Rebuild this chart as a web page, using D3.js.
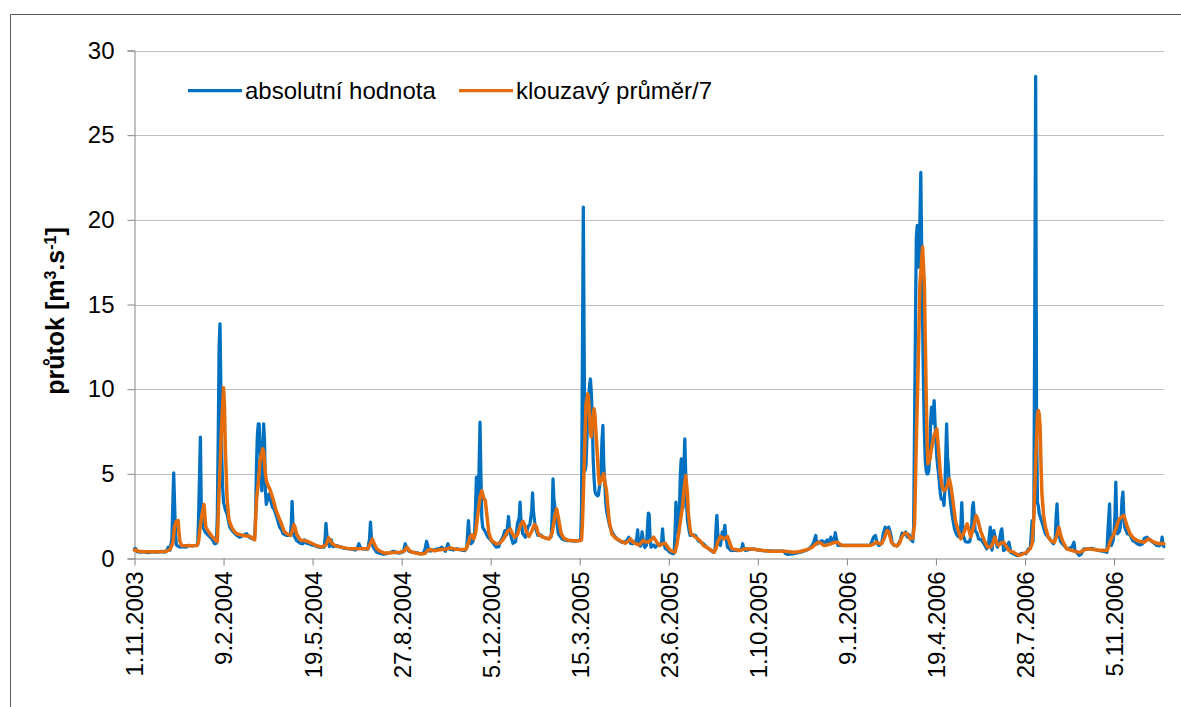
<!DOCTYPE html>
<html lang="cs">
<head>
<meta charset="utf-8">
<title>průtok</title>
<script src="https://cdn.jsdelivr.net/npm/d3@7/dist/d3.min.js"></script>
<style>
  html, body { margin: 0; padding: 0; background: #fff; }
  svg { display: block; font-family: "Liberation Sans", Arial, sans-serif; }
</style>
</head>
<body>
<svg id="chart" width="1181" height="707"></svg>
<script>
// Series start date; data points are given as [day offset from start, m3/s]
const startDate = "1.11.2003";
const dayCount = 1156;

// Daily discharge (absolutní hodnota)
const absolutni = [
 [0,0.57],[1,0.6],[3,0.4],[6,0.37],[10,0.4],[15,0.35],[20,0.4],[25,0.37],[30,0.42],[34,0.38],[36,0.45],[38,0.67],[40,0.5],
 [42,1.2],[44,5.06],[46,1.5],[47,0.8],[49,0.72],[51,0.67],[55,0.7],[58,0.67],[61,0.77],[65,0.75],[69,0.78],[71,0.8],
 [72,2.5],[74,7.17],[75,3.0],[76,2.6],[77,1.85],[79,1.6],[81,1.47],[84,1.3],[87,1.16],[90,0.87],[92,0.9],
 [93,2.5],[94,7],[95,12.5],[96,13.86],[97,10],[98,6],[99,4.2],[100,3.3],[102,2.9],[104,2.6],[107,1.85],[109,1.7],[111,1.56],
 [115,1.36],[118,1.26],[122,1.36],[126,1.46],[128,1.3],[130,1.22],[133,1.16],[135,1.3],[136,2.5],[137,5.5],[138,7.3],
 [139,7.95],[140,7.95],[141,6.5],[142,4.5],[143,4.0],[144,6.0],[145,7.95],[146,7.0],[147,4.0],[148,3.2],[149,3.4],[151,3.8],
 [153,3.4],[155,3.03],[157,2.9],[160,2.4],[163,1.85],[165,1.7],[167,1.46],[171,1.36],[175,1.36],[176,2.0],[177,3.37],
 [178,2.0],[179,1.36],[182,1.06],[186,0.9],[189,0.87],[191,1.1],[193,0.9],[196,0.87],[199,0.8],[202,0.77],[207,0.67],
 [210,0.65],[213,0.67],[214,1.2],[215,2.07],[216,1.4],[218,0.96],[219,0.7],[221,1.1],[223,0.7],[227,0.77],[232,0.67],
 [236,0.6],[242,0.57],[248,0.5],[250,0.6],[252,0.87],[254,0.6],[257,0.57],[262,0.55],[264,1.2],[265,2.15],[266,1.2],
 [268,0.67],[272,0.37],[276,0.3],[280,0.25],[283,0.28],[287,0.35],[291,0.43],[294,0.35],[298,0.32],[302,0.4],[304,0.87],
 [306,0.6],[308,0.43],[312,0.37],[316,0.35],[321,0.28],[324,0.3],[326,0.5],[328,1.02],[330,0.6],[332,0.43],[336,0.5],
 [338,0.53],[343,0.6],[345,0.67],[347,0.55],[349,0.43],[352,0.87],[354,0.55],[358,0.5],[362,0.57],[367,0.5],[371,0.47],
 [373,0.6],[374,1.4],[375,2.24],[376,1.4],[378,0.87],[380,1.0],[382,1.5],[384,4.8],[385,3.5],[386,3.0],[387,5.5],
 [388,8.05],[389,5.0],[390,2.4],[391,1.85],[394,1.56],[397,1.26],[400,1.1],[403,0.9],[406,0.67],[409,0.7],[411,1.0],
 [414,1.3],[416,1.65],[418,1.4],[420,2.48],[421,1.8],[423,1.26],[425,0.9],[428,1.0],[430,2.05],[432,2.4],[433,3.33],
 [434,2.2],[436,1.46],[439,1.26],[442,1.9],[444,2.0],[446,2.8],[447,3.87],[448,2.8],[450,1.85],[453,1.36],[456,1.4],
 [459,1.26],[462,1.2],[465,1.16],[468,1.3],[469,2.5],[470,4.7],[471,3.5],[473,2.64],[476,1.46],[480,1.16],[483,1.1],
 [486,1.06],[490,1.05],[494,1.02],[498,1.06],[501,1.1],[502,3],[503,12],[504,20.75],[505,12],[506,5.2],[507,5.5],[508,7],
 [509,8.5],[510,9.5],[511,10.2],[512,10.6],[513,9.8],[514,8.5],[515,6.0],[516,4.8],[517,4.0],[518,3.8],[520,3.7],
 [521,3.75],[523,4.6],[524,5.5],[525,7.0],[526,7.86],[527,5.5],[528,4.6],[529,3.5],[530,2.84],[532,2.3],[534,1.85],
 [537,1.5],[540,1.26],[543,1.1],[547,0.96],[551,1.0],[553,1.06],[555,1.26],[557,0.9],[559,0.87],[562,0.9],[564,1.2],
 [565,1.69],[566,1.0],[568,0.73],[569,1.0],[570,1.57],[572,0.8],[573,0.65],[575,0.8],[577,2.68],[578,2.6],[579,1.2],
 [580,0.67],[583,0.8],[585,0.67],[587,0.8],[590,0.77],[592,1.0],[593,1.75],[594,1.0],[596,0.6],[599,0.5],[601,0.37],
 [605,0.28],[606,0.33],[607,1.5],[608,3.33],[609,2.5],[610,1.5],[611,1.46],[612,3.0],[613,5.0],[614,5.89],[615,4.5],
 [616,3.0],[617,5.5],[618,7.07],[619,5.0],[620,3.2],[621,2.24],[623,1.6],[624,1.36],[627,1.4],[630,1.36],[633,1.06],
 [636,0.95],[639,0.87],[642,0.7],[645,0.57],[648,0.45],[650,0.37],[652,0.5],[653,1.8],[654,2.54],[655,1.5],[656,0.9],
 [658,0.77],[660,1.56],[661,1.3],[662,1.6],[663,1.95],[664,1.3],[666,0.67],[670,0.47],[673,0.5],[677,0.47],[680,0.5],
 [682,0.6],[683,0.87],[684,0.6],[686,0.47],[690,0.52],[695,0.57],[700,0.5],[706,0.47],[712,0.45],[718,0.43],[725,0.43],
 [729,0.43],[731,0.3],[733,0.24],[736,0.26],[740,0.28],[744,0.33],[748,0.37],[752,0.45],[755,0.5],[758,0.6],[761,0.77],
 [763,1.0],[765,1.36],[766,0.95],[767,0.87],[770,1.0],[772,1.06],[775,0.9],[778,1.1],[780,0.9],[782,1.26],[784,0.95],
 [786,1.2],[787,1.52],[788,1.2],[790,0.77],[792,0.77],[826,0.77],[828,1.0],[830,1.26],[832,1.36],[834,0.9],[836,0.77],
 [839,0.9],[841,1.5],[843,1.85],[845,1.7],[847,1.85],[849,1.5],[851,0.9],[853,0.77],[857,0.77],[860,1.1],[862,1.5],
 [864,1.42],[866,1.56],[868,1.26],[870,1.4],[872,1.1],[874,1.0],[875,2.0],[876,8],[877,14],[878,19.0],[879,19.67],
 [880,18],[881,17.2],[882,20],[883,22.8],[884,18.2],[885,14],[886,10.3],[887,7.5],[888,5.8],[889,5.2],[890,5.0],
 [891,5.0],[892,5.2],[893,6.0],[894,8.0],[895,8.94],[896,8.0],[897,8.5],[898,9.33],[899,8.0],[900,6.97],[901,6.0],
 [902,5.4],[903,5.0],[904,4.4],[905,3.82],[906,3.5],[908,3.5],[909,3.13],[910,4.0],[911,6.0],[912,7.95],[913,6.0],
 [914,5.4],[915,4.0],[917,3.03],[919,2.3],[921,1.7],[923,1.46],[925,1.3],[927,1.26],[928,2.0],[929,3.3],[930,2.0],
 [931,1.3],[933,1.0],[936,0.96],[938,1.0],[940,1.6],[941,3.0],[942,3.3],[943,2.5],[944,1.65],[946,1.5],[948,1.16],
 [951,1.1],[954,0.87],[957,0.57],[959,0.8],[961,1.85],[963,0.5],[965,1.65],[967,1.1],[969,0.67],[971,1.0],[973,1.6],
 [974,1.75],[976,0.47],[979,0.6],[982,0.96],[984,0.37],[987,0.28],[991,0.18],[994,0.25],[997,0.31],[1001,0.28],
 [1004,0.57],[1006,0.6],[1008,2.24],[1009,1.0],[1010,3.0],[1011,15],[1012,28.47],[1013,8],[1014,3.3],[1015,3.1],
 [1016,2.64],[1019,2.15],[1023,1.46],[1027,1.2],[1029,1.06],[1032,0.87],[1034,1.2],[1035,2.5],[1036,3.23],[1037,2.0],
 [1038,1.46],[1040,1.0],[1042,0.87],[1045,0.7],[1047,0.57],[1050,0.6],[1053,0.7],[1055,0.96],[1056,0.5],[1058,0.37],
 [1061,0.18],[1063,0.25],[1066,0.57],[1070,0.55],[1074,0.6],[1078,0.55],[1081,0.5],[1085,0.45],[1089,0.42],[1092,0.37],
 [1093,1.5],[1095,3.23],[1096,1.0],[1097,0.77],[1099,1.06],[1100,1.5],[1101,2.5],[1102,4.51],[1103,2.0],[1104,1.46],
 [1106,1.6],[1107,1.85],[1108,2.4],[1109,3.5],[1110,3.92],[1111,2.5],[1112,1.85],[1115,1.46],[1118,1.4],[1121,1.06],
 [1124,0.96],[1126,0.87],[1129,0.8],[1132,0.87],[1134,1.2],[1137,1.26],[1139,1.16],[1141,1.06],[1145,0.9],[1148,0.77],
 [1151,0.75],[1153,0.9],[1154,1.26],[1155,0.85],[1156,0.7]
];

// 7-day moving average (klouzavý průměr/7)
const klouzavy = [
 [0,0.5],[5,0.43],[10,0.4],[20,0.4],[30,0.4],[36,0.43],[40,0.55],[43,0.9],[45,1.9],[47,2.2],[49,2.24],[50,1.5],[51,1.0],
 [53,0.77],[60,0.75],[70,0.77],[72,1.0],[74,2.0],[76,2.64],[78,3.19],[79,2.6],[80,1.85],[83,1.6],[87,1.3],[90,1.16],
 [92,1.0],[93,1.0],[94,2.5],[96,5.4],[98,8],[100,10.08],[101,9],[102,6.5],[104,3.5],[106,2.3],[109,1.85],[112,1.6],
 [115,1.46],[122,1.36],[130,1.3],[135,1.1],[137,3.43],[139,4.5],[141,5.79],[144,6.48],[145,6.3],[147,5.0],[148,4.6],
 [150,4.3],[152,4.1],[155,3.62],[159,2.84],[163,2.3],[165,2.05],[168,1.6],[171,1.46],[175,1.36],[177,1.6],[179,2.0],
 [180,1.9],[182,1.46],[186,1.1],[190,1.06],[195,1.0],[199,0.9],[204,0.77],[210,0.67],[215,0.8],[218,1.22],[220,1.05],
 [222,0.87],[227,0.72],[232,0.67],[242,0.57],[250,0.57],[257,0.57],[262,0.57],[265,0.9],[267,1.15],[269,0.9],[272,0.57],
 [276,0.43],[280,0.33],[285,0.32],[291,0.35],[298,0.37],[303,0.45],[306,0.67],[309,0.45],[312,0.37],[321,0.27],[326,0.3],
 [330,0.5],[332,0.53],[337,0.45],[341,0.5],[345,0.53],[350,0.55],[355,0.63],[360,0.55],[366,0.53],[372,0.53],[375,0.9],
 [377,1.3],[379,1.4],[381,1.16],[383,1.5],[386,2.8],[388,3.6],[390,4.0],[392,3.6],[394,3.4],[396,2.4],[398,1.5],
 [401,1.06],[404,0.95],[406,0.87],[410,0.9],[413,1.06],[416,1.3],[419,1.6],[422,1.75],[424,1.5],[427,1.26],[430,1.4],
 [433,1.9],[436,2.2],[438,2.0],[440,1.6],[443,1.3],[446,1.6],[449,2.0],[451,1.9],[454,1.4],[457,1.3],[462,1.2],
 [466,1.16],[469,1.5],[472,2.5],[474,2.93],[476,2.4],[479,1.5],[482,1.2],[486,1.1],[492,1.05],[500,1.05],[502,1.1],
 [503,2.0],[505,5.5],[507,9.1],[509,9.73],[510,9.4],[512,7.5],[513,7.17],[515,8.3],[516,8.84],[517,8.5],[519,6.77],
 [521,5.0],[522,4.41],[524,4.6],[527,5.0],[528,4.6],[530,4.0],[532,2.8],[533,2.24],[536,1.46],[540,1.2],[544,1.1],
 [547,1.0],[551,0.9],[554,1.0],[557,1.16],[560,0.95],[562,0.9],[566,0.8],[568,0.87],[571,1.06],[574,0.97],[577,0.97],
 [580,1.1],[583,1.26],[586,1.0],[589,0.77],[592,0.85],[596,0.9],[599,0.65],[602,0.47],[607,0.37],[609,0.8],[611,1.46],
 [613,2.2],[615,2.9],[617,4.0],[619,4.9],[621,3.8],[622,2.64],[624,1.7],[625,1.46],[630,1.26],[635,1.06],[639,0.77],
 [645,0.57],[651,0.37],[653,0.6],[655,0.97],[658,1.3],[662,1.16],[666,1.3],[668,1.0],[671,0.57],[680,0.47],[684,0.55],
 [688,0.57],[695,0.55],[706,0.47],[715,0.43],[730,0.43],[740,0.37],[746,0.4],[752,0.47],[757,0.55],[761,0.67],
 [765,0.85],[768,0.97],[771,0.9],[774,0.77],[778,0.8],[782,0.87],[786,0.95],[789,0.97],[792,0.85],[795,0.77],[826,0.77],
 [830,0.85],[833,0.97],[836,0.9],[839,0.87],[842,1.2],[845,1.65],[847,1.6],[850,0.95],[853,0.8],[856,0.73],[859,0.9],
 [862,1.3],[865,1.5],[868,1.45],[871,1.16],[874,1.2],[876,2.0],[878,7],[880,11.3],[882,16.2],[885,18.4],[887,16.2],
 [888,13],[889,9.9],[890,7.0],[891,5.6],[893,5.8],[895,6.5],[898,7.3],[901,7.66],[903,6.38],[905,5.0],[907,4.21],
 [909,4.0],[912,4.2],[915,4.7],[917,4.2],[919,3.43],[922,2.2],[925,1.65],[928,1.16],[932,1.6],[935,2.05],[937,1.7],
 [939,1.26],[942,1.8],[945,2.54],[947,2.3],[950,1.65],[954,1.1],[958,0.67],[962,0.7],[964,0.9],[966,1.26],[968,1.0],
 [970,0.77],[973,0.9],[976,0.96],[978,0.8],[982,0.47],[987,0.37],[993,0.18],[997,0.25],[1002,0.37],[1006,0.6],
 [1008,0.87],[1010,2.5],[1012,5.79],[1014,8.5],[1015,8.74],[1016,8.5],[1017,7.76],[1018,5.5],[1019,3.82],[1021,2.5],
 [1023,1.85],[1026,1.3],[1029,1.06],[1033,0.96],[1036,1.4],[1038,1.85],[1040,1.4],[1042,1.06],[1045,0.75],[1047,0.57],
 [1053,0.47],[1058,0.4],[1062,0.37],[1066,0.5],[1070,0.57],[1075,0.55],[1081,0.5],[1092,0.47],[1094,0.7],[1096,1.06],
 [1100,1.46],[1103,1.9],[1105,2.24],[1108,2.45],[1111,2.54],[1113,2.2],[1115,1.85],[1118,1.46],[1122,1.2],[1126,1.06],
 [1130,1.0],[1134,0.96],[1137,1.1],[1139,1.16],[1142,1.05],[1145,0.96],[1150,0.87],[1153,0.9],[1156,0.87]
];

// Axis tick labels
const dateTicks = ["1.11.2003","9.2.2004","19.5.2004","27.8.2004","5.12.2004","15.3.2005",
                   "23.6.2005","1.10.2005","9.1.2006","19.4.2006","28.7.2006","5.11.2006"];
const valueTicks = [0, 5, 10, 15, 20, 25, 30];

const seriesNames = ["absolutní hodnota", "klouzavý průměr/7"];
const seriesColors = ["#0070c0", "#e46c0a"];

const parseDate = d3.utcParse("%d.%m.%Y");
const t0 = parseDate(startDate);
const toDate = d => d3.utcDay.offset(t0, d);

const svg = d3.select("#chart");
const plot = { left: 134.5, right: 1163.9, top: 50.5, bottom: 558.5 };

const x = d3.scaleUtc()
  .domain([t0, toDate(dayCount)])
  .range([plot.left, plot.right]);
const y = d3.scaleLinear()
  .domain([0, 30])
  .range([plot.bottom, plot.top]);

// Outer chart frame
svg.append("path")
  .attr("d", "M10.5,707 V14.5 H1181")
  .attr("fill", "none")
  .attr("stroke", "#595959")
  .attr("stroke-width", 1);

// Horizontal gridlines
svg.append("g")
  .selectAll("line")
  .data(valueTicks.filter(v => v > 0))
  .join("line")
  .attr("x1", plot.left).attr("x2", plot.right)
  .attr("y1", d => Math.round(y(d)) + 0.5).attr("y2", d => Math.round(y(d)) + 0.5)
  .attr("stroke", "#bfbfbf")
  .attr("stroke-width", 1);

// Y axis
const yAxis = svg.append("g")
  .attr("transform", `translate(${plot.left},0)`)
  .call(d3.axisLeft(y).tickValues(valueTicks).tickSize(7).tickPadding(13).tickFormat(d3.format("d")));
yAxis.select(".domain").attr("stroke", "#868686");
yAxis.selectAll(".tick line").attr("stroke", "#868686");
yAxis.selectAll(".tick text")
  .attr("fill", "#000")
  .style("font-size", "24px")
  .style("font-family", "'Liberation Sans', Arial, sans-serif");

// X axis with rotated date labels
const tickDates = dateTicks.map(parseDate);
const xAxis = svg.append("g")
  .attr("transform", `translate(0,${plot.bottom})`)
  .call(d3.axisBottom(x).tickValues(tickDates).tickSize(7).tickSizeOuter(0)
    .tickFormat((d, i) => dateTicks[i]));
xAxis.select(".domain").attr("stroke", "#868686");
xAxis.selectAll(".tick line").attr("stroke", "#868686");
xAxis.selectAll(".tick text")
  .attr("fill", "#000")
  .style("font-size", "24px")
  .style("font-family", "'Liberation Sans', Arial, sans-serif")
  .attr("text-anchor", "end")
  .attr("transform", "rotate(-90)")
  .attr("x", -13)
  .attr("y", 0)
  .attr("dy", "0.35em");

// Lines
const line = d3.line()
  .x(d => x(toDate(d[0])))
  .y(d => y(d[1]));

[absolutni, klouzavy].forEach((series, i) => {
  svg.append("path")
    .datum(series)
    .attr("fill", "none")
    .attr("stroke", seriesColors[i])
    .attr("stroke-width", i === 0 ? 3.25 : 3.5)
    .attr("stroke-linejoin", "round")
    .attr("stroke-linecap", "round")
    .attr("d", line);
});

// Y axis title: průtok [m3.s-1] with superscripts
const title = svg.append("text")
  .attr("transform", "translate(64,311) rotate(-90)")
  .attr("text-anchor", "middle")
  .style("font-size", "25px")
  .style("font-weight", "bold")
  .style("font-family", "'Liberation Sans', Arial, sans-serif")
  .attr("fill", "#000");
title.append("tspan").text("průtok [m");
title.append("tspan").attr("baseline-shift", "super").style("font-size", "16px").text("3");
title.append("tspan").text(".s");
title.append("tspan").attr("baseline-shift", "super").style("font-size", "16px").text("-1");
title.append("tspan").text("]");

// Legend
const legendItems = [
  { x0: 188, x1: 242, tx: 245 },
  { x0: 459, x1: 513, tx: 516 }
];
const legend = svg.append("g");
legendItems.forEach((p, i) => {
  legend.append("line")
    .attr("x1", p.x0).attr("x2", p.x1)
    .attr("y1", 90.5).attr("y2", 90.5)
    .attr("stroke", seriesColors[i])
    .attr("stroke-width", 3.25);
  legend.append("text")
    .attr("x", p.tx).attr("y", 99)
    .style("font-size", "24px")
    .style("font-family", "'Liberation Sans', Arial, sans-serif")
    .attr("fill", "#000")
    .text(seriesNames[i]);
});
</script>
</body>
</html>
